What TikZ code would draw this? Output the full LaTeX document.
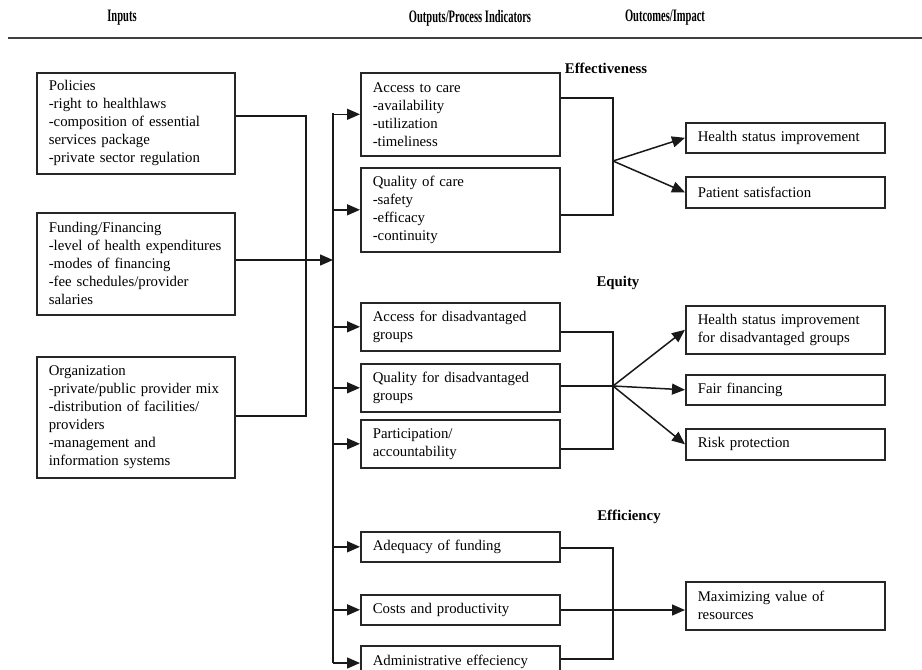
\documentclass[tikz,border=0pt]{standalone}
\usepackage{fontspec}
\setmainfont{Liberation Serif}
\usetikzlibrary{arrows.meta}
\begin{document}
\begin{tikzpicture}[x=1pt,y=-1pt,
  every node/.style={font=\fontsize{14.8}{18}\selectfont},
  box/.style={draw=black!85, line width=1.6pt, align=left, anchor=north west,
     inner xsep=12pt, inner ysep=0pt},
  lbox/.style={box, text width=174pt},
  mbox/.style={box, text width=175pt},
  conn/.style={draw=black!90, line width=1.5pt},
  arr/.style={conn, -{Triangle[length=13pt,width=11pt]}},
  head/.style={font=\fontsize{17.5}{20}\selectfont\bfseries},
  sect/.style={font=\fontsize{14.8}{18}\selectfont\bfseries}]
\useasboundingbox (0,0) rectangle (922,670);
% headers
\node[head] (h1) at (122,18) {\scalebox{0.6}[1]{Inputs}};
\node[head] (h2) at (470,18) {\scalebox{0.6}[1]{Outputs/Process Indicators}};
\node[head] (h3) at (665,18) {\scalebox{0.6}[1]{Outcomes/Impact}};
\coordinate (rl) at (8,38);
\coordinate (rr) at (922,38);
\draw[line width=2.8pt, black!75] (rl) -- (rr);
% section labels
\node[sect] (s1) at (606,68) {Effectiveness};
\node[sect] (s2) at (618,283) {Equity};
\node[sect] (s3) at (629,517) {Efficiency};
% inputs
\node[lbox, minimum height=101pt] (P) at (36,72) {Policies\\-right to healthlaws\\-composition of essential\\services package\\-private sector regulation};
\node[lbox, minimum height=102pt] (F) at (36,212) {Funding/Financing\\-level of health expenditures\\-modes of financing\\-fee schedules/provider\\salaries};
\node[lbox, minimum height=121pt] (O) at (36,356) {Organization\\-private/public provider mix\\-distribution of facilities/\\providers\\-management and\\information systems};
% outputs
\node[mbox, minimum height=83pt] (AC) at (360,72) {Access to care\\-availability\\-utilization\\-timeliness};
\node[mbox, minimum height=84pt] (QC) at (360,167) {Quality of care\\-safety\\-efficacy\\-continuity};
\node[mbox, minimum height=48pt] (AD) at (360,302) {Access for disadvantaged\\groups};
\node[mbox, minimum height=48pt] (QD) at (360,363) {Quality for disadvantaged\\groups};
\node[mbox, minimum height=48pt] (PA) at (360,419) {Participation/\\accountability};
\node[mbox, minimum height=30pt] (AF) at (360,531) {Adequacy of funding};
\node[mbox, minimum height=30pt] (CP) at (360,594) {Costs and productivity};
\node[mbox, minimum height=32pt] (AE) at (360,645) {Administrative effeciency};
% outcomes
\node[mbox, minimum height=30pt] (HS) at (685,122) {Health status improvement};
\node[mbox, minimum height=31pt] (PS) at (685,176) {Patient satisfaction};
\node[mbox, minimum height=48pt] (HD) at (685,305) {Health status improvement\\for disadvantaged groups};
\node[mbox, minimum height=30pt] (FF) at (685,374) {Fair financing};
\node[mbox, minimum height=31pt] (RP) at (685,428) {Risk protection};
\node[mbox, minimum height=48pt] (MV) at (685,581) {Maximizing value of\\resources};
% input connectors
\coordinate (j1) at (306,116);
\coordinate (j2) at (306,416);
\coordinate (bt) at (333,113);
\coordinate (bb) at (333,663);
\coordinate (bf) at (333,260);
\draw[conn] (P.east |- j1) -- (j1) -- (j2) -- (O.east |- j2);
\draw[arr] (F.east |- bf) -- (bf);
\draw[conn] (bt) -- (bb);
\foreach \n in {AC,QC,AD,QD,PA,AF,CP}{
  \draw[arr] (bt |- \n.west) -- (\n.west);
}
\draw[arr] (bb) -- (AE.west |- bb);
% effectiveness bracket
\coordinate (e1) at (613,98);
\coordinate (e2) at (613,215);
\coordinate (ef) at (613,161);
\draw[conn] (AC.east |- e1) -- (e1) -- (e2) -- (QC.east |- e2);
\draw[arr] (ef) -- (HS.west);
\draw[arr] (ef) -- (PS.west);
% equity bracket
\coordinate (q1) at (613,332);
\coordinate (q2) at (613,449);
\coordinate (qf) at (613,386);
\draw[conn] (AD.east |- q1) -- (q1) -- (q2) -- (PA.east |- q2);
\draw[conn] (QD.east |- qf) -- (qf);
\draw[arr] (qf) -- (HD.west);
\draw[arr] (qf) -- (FF.west);
\draw[arr] (qf) -- (RP.west);
% efficiency bracket
\coordinate (f1) at (613,548);
\coordinate (f2) at (613,659);
\coordinate (ff) at (613,610);
\draw[conn] (AF.east |- f1) -- (f1) -- (f2) -- (AE.east |- f2);
\draw[arr] (CP.east |- ff) -- (MV.west |- ff);
\end{tikzpicture}
\end{document}
